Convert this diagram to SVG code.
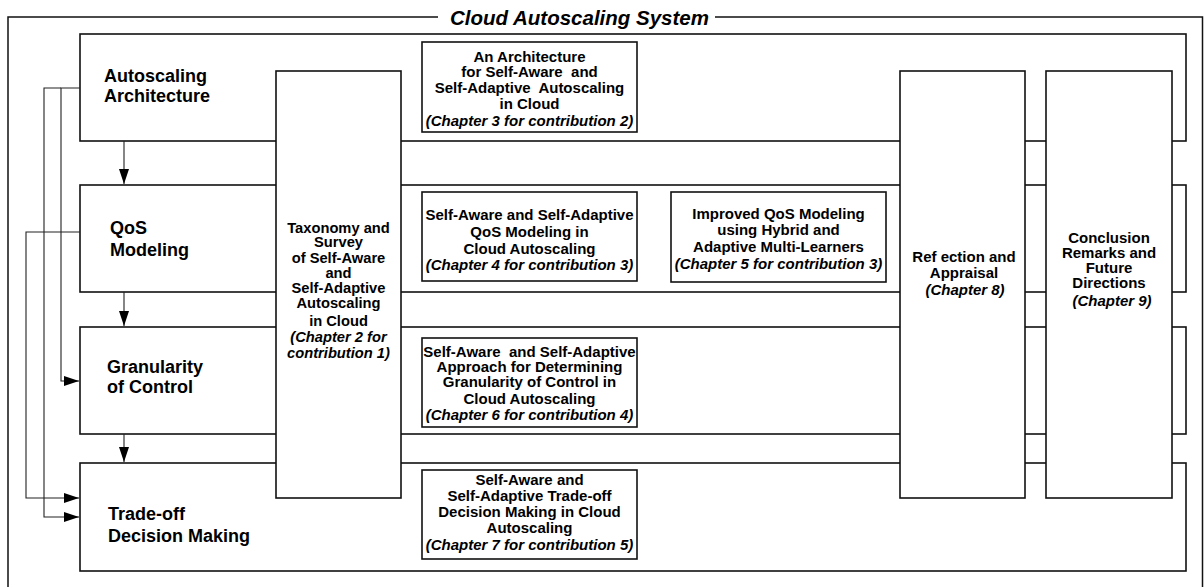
<svg xmlns="http://www.w3.org/2000/svg" width="1204" height="587" viewBox="0 0 1204 587">
<style>
  .frame{fill:none;stroke:#111;stroke-width:1.5}
  .row{fill:#fff;stroke:#111;stroke-width:1.6}
  .col{fill:#fff;stroke:#111;stroke-width:1.6}
  .box{fill:#fff;stroke:#111;stroke-width:1.6}
  .lbl{font-family:"Liberation Sans",Arial,sans-serif;font-weight:bold;font-size:18px;fill:#000}
  .t{font-family:"Liberation Sans",Arial,sans-serif;font-weight:bold;font-size:15px;fill:#000;text-anchor:middle}
  .pre{white-space:pre}
  .ti{font-style:italic}
  .title{font-family:"Liberation Sans",Arial,sans-serif;font-weight:bold;font-style:italic;font-size:20.5px;fill:#000}
  .con{fill:none;stroke:#222;stroke-width:1.1}
</style>
<defs>
  <marker id="ah" markerUnits="userSpaceOnUse" markerWidth="15" markerHeight="10" refX="15" refY="5" orient="auto">
    <path d="M0,0 L15,5 L0,10 z" fill="#000"/>
  </marker>
</defs>

<g id="frame">
  <path class="frame" d="M8,590 V17 H438 M715,17 H1202.5 V590"/>
  <text class="title" x="450" y="25">Cloud Autoscaling System</text>
</g>

<g id="row-architecture">
  <rect class="row" x="80" y="34" width="1106" height="107"/>
  <text class="lbl" x="104" y="82">Autoscaling</text>
  <text class="lbl" x="104" y="102">Architecture</text>
</g>
<g id="row-qos">
  <rect class="row" x="80" y="185" width="1106" height="107"/>
  <text class="lbl" x="110" y="234">QoS</text>
  <text class="lbl" x="110" y="256">Modeling</text>
</g>
<g id="row-granularity">
  <rect class="row" x="80" y="327" width="1106" height="107"/>
  <text class="lbl" x="107" y="373">Granularity</text>
  <text class="lbl" x="107" y="393">of Control</text>
</g>
<g id="row-tradeoff">
  <rect class="row" x="80" y="463" width="1106" height="108"/>
  <text class="lbl" x="108" y="520">Trade-off</text>
  <text class="lbl" x="108" y="542">Decision Making</text>
</g>

<g id="taxonomy">
  <rect class="col" x="276" y="71" width="125" height="427"/>
  <g class="t" style="font-size:14.7px">
    <text x="338.5" y="233">Taxonomy and</text>
    <text x="338.5" y="247">Survey</text>
    <text x="338.5" y="263">of Self-Aware</text>
    <text x="338.5" y="278">and</text>
    <text x="338.5" y="293">Self-Adaptive</text>
    <text x="338.5" y="308">Autoscaling</text>
    <text x="338.5" y="326">in Cloud</text>
    <text class="ti" x="338.5" y="342">(Chapter 2 for</text>
    <text class="ti" x="338.5" y="358">contribution 1)</text>
  </g>
</g>

<g id="reflection">
  <rect class="col" x="900" y="71" width="125" height="427"/>
  <g class="t">
    <text x="964" y="262">Ref ection and</text>
    <text x="964" y="278">Appraisal</text>
    <text class="ti" x="965" y="295">(Chapter 8)</text>
  </g>
</g>

<g id="conclusion">
  <rect class="col" x="1046" y="71" width="126" height="427"/>
  <g class="t">
    <text x="1109" y="243">Conclusion</text>
    <text x="1109" y="258">Remarks and</text>
    <text x="1109" y="273">Future</text>
    <text x="1109" y="288">Directions</text>
    <text class="ti" x="1112" y="306">(Chapter 9)</text>
  </g>
</g>

<g id="box-architecture">
  <rect class="box" x="422" y="42" width="215" height="90"/>
  <g class="t">
    <text x="529.5" y="62">An Architecture</text>
    <text class="pre" x="529.5" y="77">for Self-Aware  and</text>
    <text class="pre" x="529.5" y="93">Self-Adaptive  Autoscaling</text>
    <text x="529.5" y="109">in Cloud</text>
    <text class="ti" x="529.5" y="126">(Chapter 3 for contribution 2)</text>
  </g>
</g>

<g id="box-qos">
  <rect class="box" x="422" y="192" width="215" height="89"/>
  <g class="t">
    <text x="529.5" y="220">Self-Aware and Self-Adaptive</text>
    <text x="529.5" y="237">QoS Modeling in</text>
    <text x="529.5" y="254">Cloud Autoscaling</text>
    <text class="ti" x="529.5" y="270">(Chapter 4 for contribution 3)</text>
  </g>
</g>

<g id="box-improved-qos">
  <rect class="box" x="671" y="192" width="215" height="90"/>
  <g class="t">
    <text x="778.5" y="219">Improved QoS Modeling</text>
    <text x="778.5" y="235">using Hybrid and</text>
    <text x="778.5" y="252">Adaptive Multi-Learners</text>
    <text class="ti" x="778.5" y="269">(Chapter 5 for contribution 3)</text>
  </g>
</g>

<g id="box-granularity">
  <rect class="box" x="422" y="338" width="215" height="89"/>
  <g class="t">
    <text class="pre" x="529.5" y="357">Self-Aware  and Self-Adaptive</text>
    <text x="529.5" y="372">Approach for Determining</text>
    <text x="529.5" y="387">Granularity of Control in</text>
    <text x="529.5" y="404">Cloud Autoscaling</text>
    <text class="ti" x="529.5" y="420">(Chapter 6 for contribution 4)</text>
  </g>
</g>

<g id="box-tradeoff">
  <rect class="box" x="422" y="470" width="215" height="89"/>
  <g class="t">
    <text x="529.5" y="485">Self-Aware and</text>
    <text x="529.5" y="501">Self-Adaptive Trade-off</text>
    <text x="529.5" y="517">Decision Making in Cloud</text>
    <text x="529.5" y="533">Autoscaling</text>
    <text class="ti" x="529.5" y="550">(Chapter 7 for contribution 5)</text>
  </g>
</g>

<g id="connectors">
  <path class="con" d="M124,141 V184" marker-end="url(#ah)"/>
  <path class="con" d="M124,292 V326" marker-end="url(#ah)"/>
  <path class="con" d="M124,434 V462" marker-end="url(#ah)"/>
  <path class="con" d="M80,88 H61 V381 H79" marker-end="url(#ah)"/>
  <path class="con" d="M61,88 H44 V517 H79" marker-end="url(#ah)"/>
  <path class="con" d="M80,232 H26 V498 H79" marker-end="url(#ah)"/>
</g>
</svg>
